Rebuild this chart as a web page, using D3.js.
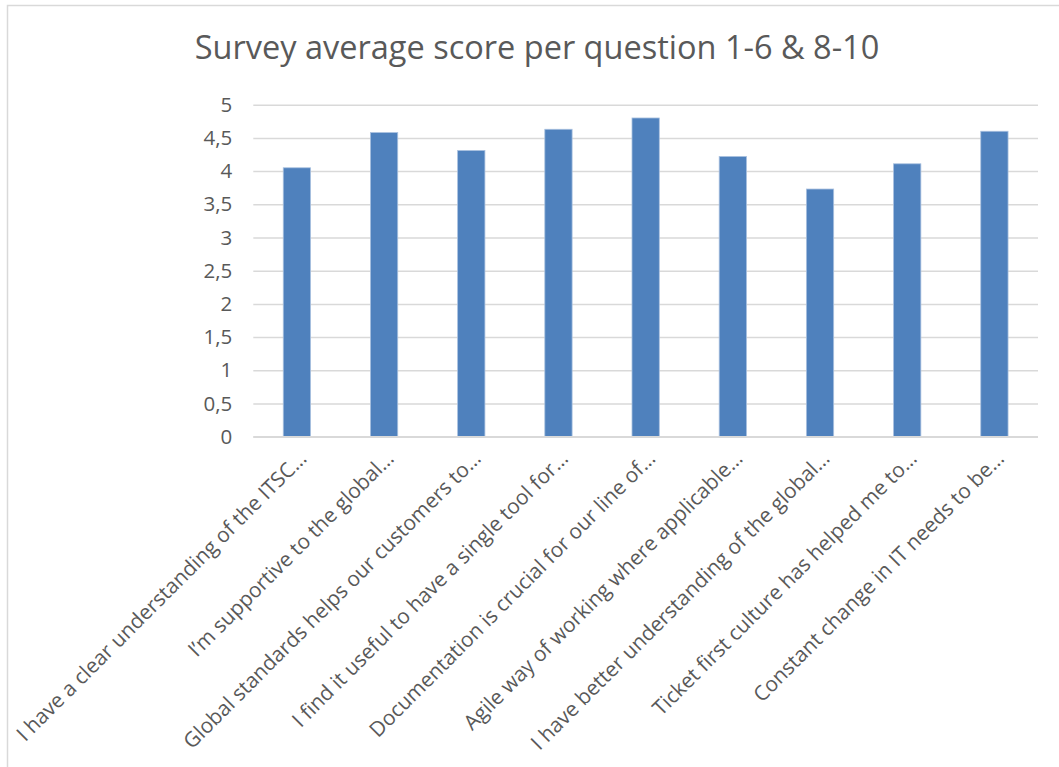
<!DOCTYPE html>
<html>
<head>
<meta charset="utf-8">
<script src="https://cdn.jsdelivr.net/npm/d3@7"></script>
<style>
  html, body { margin: 0; padding: 0; background: #fff; }
  svg { display: block; }
  text { font-family: "Open Sans", "Noto Sans", sans-serif; fill: #595959; }
</style>
</head>
<body>
<svg id="chart" width="1059" height="767"></svg>
<script>
// Survey questions (truncated as shown on the axis) and their average scores
const questions = [
  "I have a clear understanding of the ITSC…",
  "I’m supportive to the global…",
  "Global standards helps our customers to…",
  "I find it useful to have a single tool for…",
  "Documentation is crucial for our line of…",
  "Agile way of working where applicable…",
  "I have better understanding of the global…",
  "Ticket first culture has helped me to…",
  "Constant change in IT needs to be…"
];
const avgScores = [4.05, 4.58, 4.31, 4.63, 4.80, 4.22, 3.73, 4.11, 4.60];
const yTicks = [0, 0.5, 1, 1.5, 2, 2.5, 3, 3.5, 4, 4.5, 5];
const titleText = "Survey average score per question 1-6 & 8-10";

const svg = d3.select("#chart");
const W = 1059, H = 767;

// chart frame
svg.append("rect")
  .attr("x", 7.5).attr("y", 5.5)
  .attr("width", W + 20).attr("height", H + 20)
  .attr("fill", "#fff").attr("stroke", "#d9d9d9").attr("stroke-width", 1.5);

const plot = { left: 253.3, right: 1038, top: 104.7, bottom: 436.7 };

const x = d3.scaleBand()
  .domain(questions)
  .range([plot.left, plot.right])
  .paddingInner(0.687)
  .paddingOuter(0.3435);

const y = d3.scaleLinear()
  .domain([0, 5])
  .range([plot.bottom, plot.top]);

// title
svg.append("text")
  .attr("x", 537).attr("y", 59)
  .attr("text-anchor", "middle")
  .attr("font-size", 32.5)
  .text(titleText);

// y axis with horizontal gridlines
const yAxis = d3.axisLeft(y)
  .tickValues(yTicks)
  .tickSize(-(plot.right - plot.left))
  .tickPadding(21)
  .tickFormat(d => String(d).replace(".", ","));

const gy = svg.append("g")
  .attr("transform", `translate(${plot.left},0)`)
  .call(yAxis);
gy.select(".domain").remove();
gy.selectAll(".tick line").attr("stroke", "#d9d9d9").attr("stroke-width", 1.5);
gy.selectAll(".tick text")
  .attr("font-size", 20.5)
  .attr("fill", "#595959")
  .attr("font-family", "'Open Sans', sans-serif");

// bars
svg.append("g")
  .selectAll("rect")
  .data(questions)
  .join("rect")
  .attr("x", d => x(d))
  .attr("y", (d, i) => y(avgScores[i]))
  .attr("width", x.bandwidth())
  .attr("height", (d, i) => y(0) - y(avgScores[i]))
  .attr("fill", "#4f81bd")
  .attr("stroke", "#a9c0df")
  .attr("stroke-width", 0.8);

// x axis with rotated category labels
const xAxis = d3.axisBottom(x).tickSize(0).tickPadding(0);
const gx = svg.append("g")
  .attr("transform", `translate(0,${plot.bottom})`)
  .call(xAxis);
gx.select(".domain").remove();
gx.selectAll(".tick text")
  .attr("font-size", 20.8)
  .attr("fill", "#595959")
  .attr("font-family", "'Open Sans', sans-serif")
  .attr("text-anchor", "end")
  .attr("dy", null)
  .attr("y", 0)
  .attr("transform", "translate(11,23) rotate(-45)");

// baseline along the bars' bottom edge
svg.append("line")
  .attr("x1", plot.left).attr("x2", plot.right)
  .attr("y1", y(0)).attr("y2", y(0))
  .attr("stroke", "#d9d9d9").attr("stroke-width", 1.5);
</script>
</body>
</html>
